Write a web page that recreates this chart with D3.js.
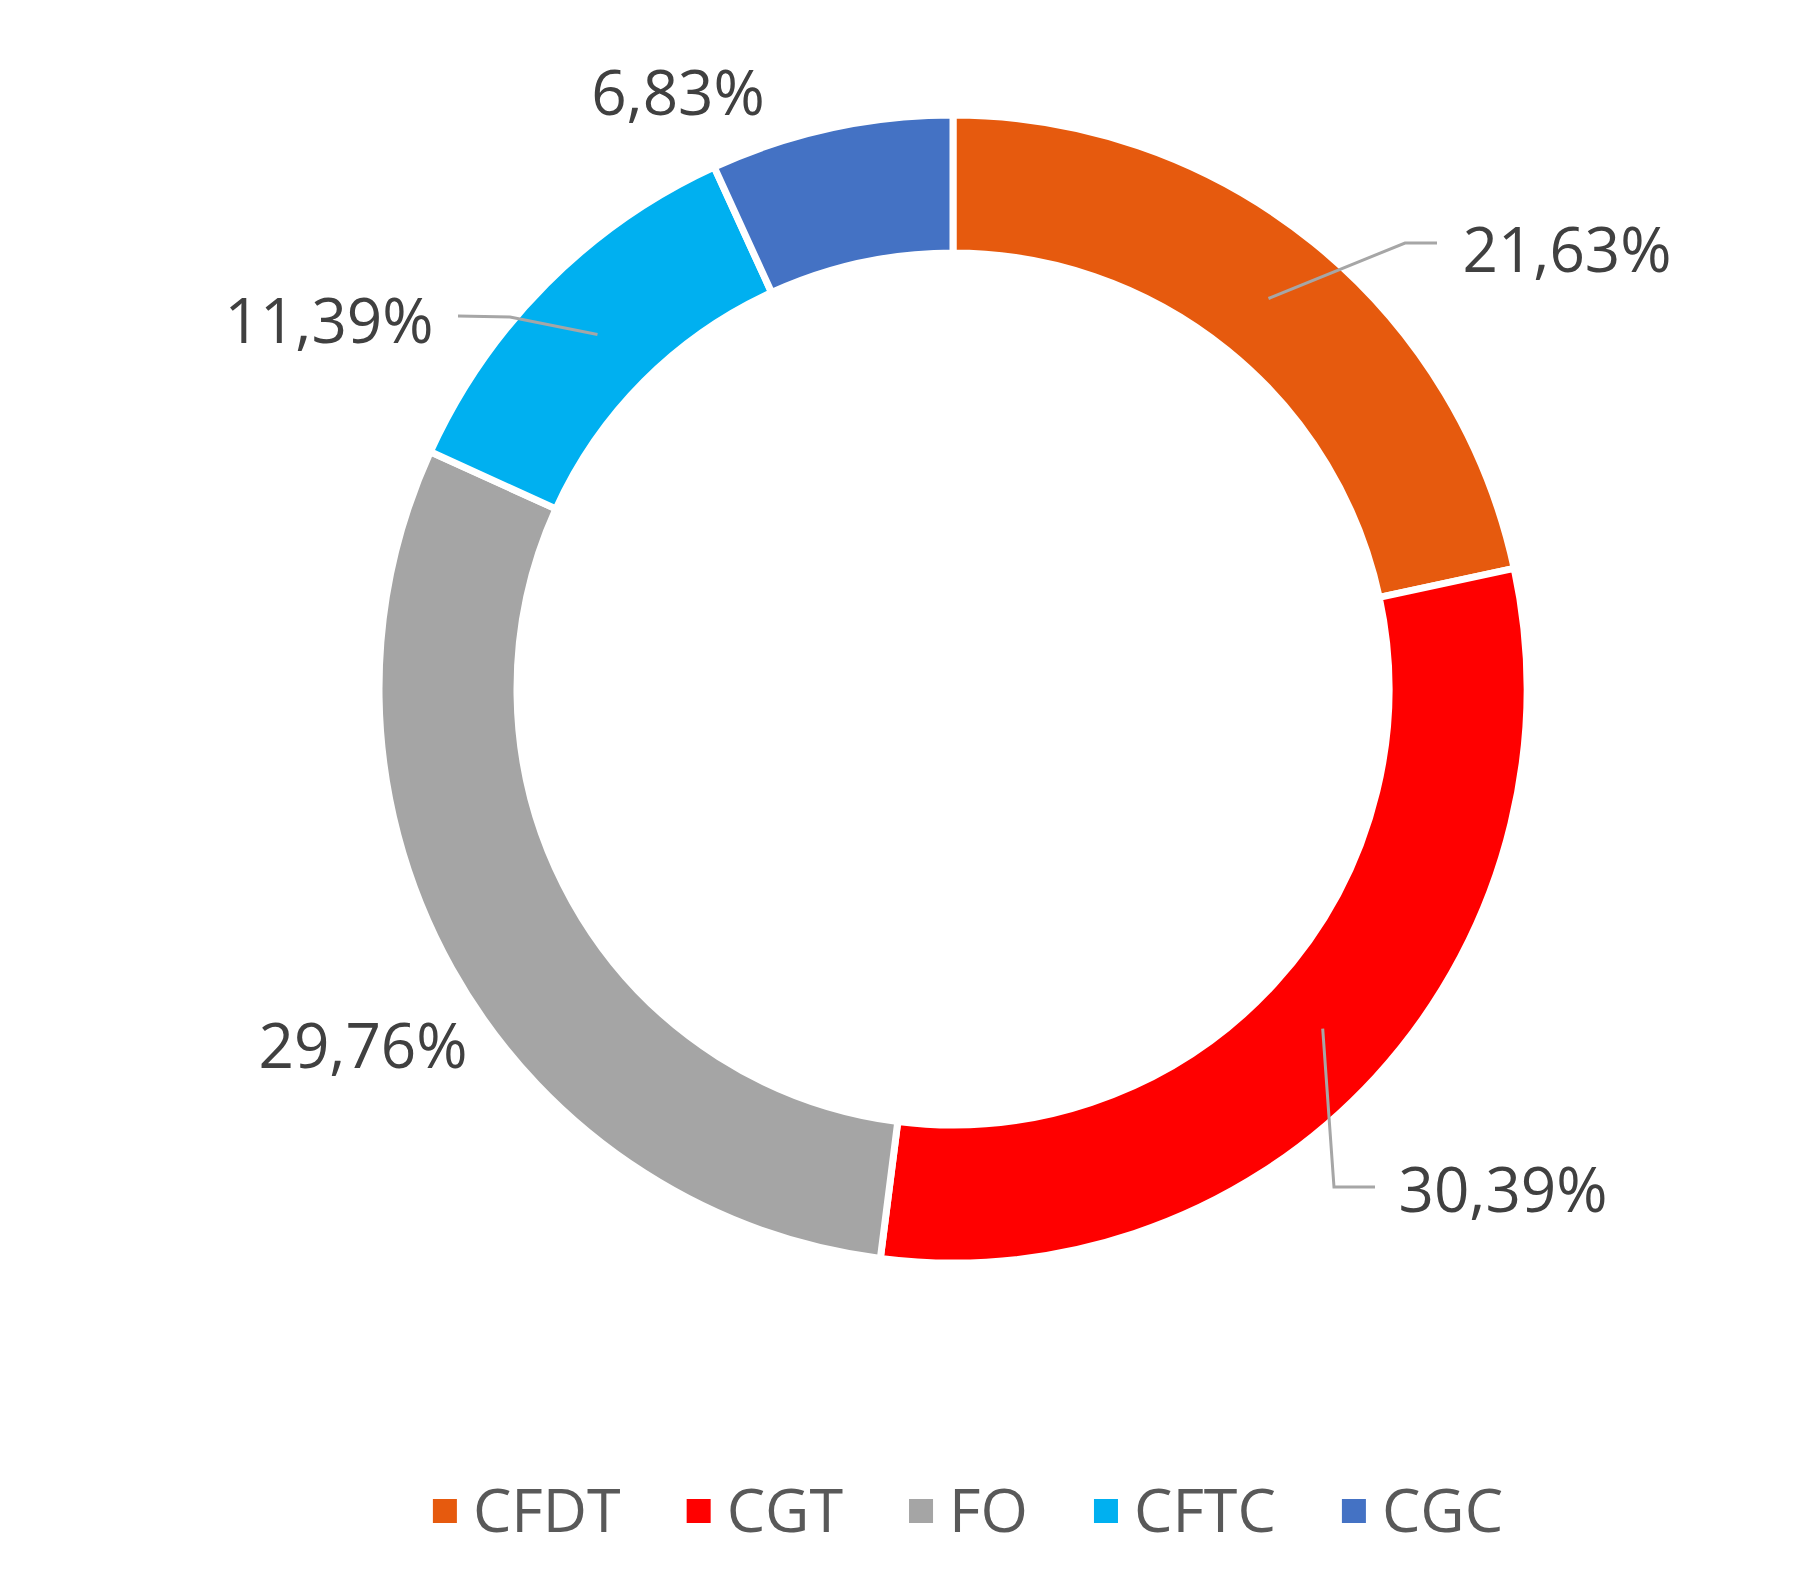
<!DOCTYPE html>
<html>
<head>
<meta charset="utf-8">
<script src="https://cdn.jsdelivr.net/npm/d3@7"></script>
<style>
  html, body { margin: 0; padding: 0; background: #ffffff; }
  svg { display: block; }
</style>
</head>
<body>
<svg id="chart" width="1812" height="1570"></svg>
<script>
// ---- data ----
const categories = ["CFDT", "CGT", "FO", "CFTC", "CGC"];
const values = [21.63, 30.39, 29.76, 11.39, 6.83];
const labels = ["21,63%", "30,39%", "29,76%", "11,39%", "6,83%"];
const colors = ["#E65A0E", "#FF0000", "#A5A5A5", "#00B0F0", "#4472C4"];

// ---- layout ----
const W = 1812, H = 1570;
const cx = 953, cy = 689;
const rOuter = 574, rInner = 436;

// label placement (center x, baseline y) and leader polylines (elbow / end), layout only
const labelLayout = {
  "CFDT": { x: 1567, y: 272, leader: [[1405, 243], [1437, 243]] },
  "CGT":  { x: 1503, y: 1212, leader: [[1334, 1187], [1375, 1187]] },
  "FO":   { x: 363,  y: 1068, leader: null },
  "CFTC": { x: 329,  y: 343, leader: [[510, 317], [458, 316]] },
  "CGC":  { x: 678,  y: 115, leader: null }
};

const svg = d3.select("#chart");
const g = svg.append("g").attr("transform", `translate(${cx},${cy})`);

const pie = d3.pie().sort(null).value(d => d.v);
const data = categories.map((c, i) => ({ c, v: values[i], color: colors[i], label: labels[i] }));
const arcs = pie(data);
const arc = d3.arc().innerRadius(rInner).outerRadius(rOuter);
const mid = d3.arc().innerRadius(502).outerRadius(502);

g.selectAll("path.slice")
  .data(arcs)
  .join("path")
  .attr("class", "slice")
  .attr("d", arc)
  .attr("fill", d => d.data.color)
  .attr("stroke", "#ffffff")
  .attr("stroke-width", 7)
  .attr("stroke-linejoin", "miter");

// leader lines
arcs.forEach(a => {
  const L = labelLayout[a.data.c];
  if (!L.leader) return;
  const [mx, my] = mid.centroid(a);
  const pts = [[mx + cx, my + cy]].concat(L.leader);
  svg.append("polyline")
    .attr("points", pts.map(p => p.join(",")).join(" "))
    .attr("fill", "none")
    .attr("stroke", "#A6A6A6")
    .attr("stroke-width", 3);
});

// labels
arcs.forEach(a => {
  const L = labelLayout[a.data.c];
  svg.append("text")
    .attr("x", L.x)
    .attr("y", L.y)
    .attr("text-anchor", "middle")
    .attr("font-family", "'Open Sans', sans-serif")
    .attr("font-size", 62)
    .attr("fill", "#404040")
    .text(a.data.label);
});

// legend
const legend = svg.append("g");
const markerSize = 24, markerGap = 16, itemGap = 66;
const legendCenterX = 968, legendMidY = 1511, legendBaseline = 1532;
let xPos = 0;
data.forEach(d => {
  const item = legend.append("g");
  item.append("rect")
    .attr("x", xPos)
    .attr("y", legendMidY - markerSize / 2)
    .attr("width", markerSize)
    .attr("height", markerSize)
    .attr("fill", d.color);
  const t = item.append("text")
    .attr("x", xPos + markerSize + markerGap)
    .attr("y", legendBaseline)
    .attr("font-family", "'Open Sans', sans-serif")
    .attr("font-size", 61)
    .attr("fill", "#595959")
    .text(d.c);
  const tw = t.node().getComputedTextLength();
  xPos += markerSize + markerGap + tw + itemGap;
});
const totalW = xPos - itemGap;
legend.attr("transform", `translate(${legendCenterX - totalW / 2},0)`);
</script>
</body>
</html>
